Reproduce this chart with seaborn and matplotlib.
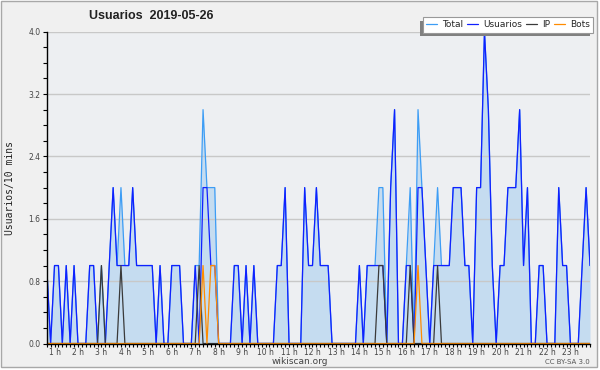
"""Wikiscan style daily activity chart: users per 10 minutes."""
import matplotlib
matplotlib.use("Agg")
import matplotlib.pyplot as plt
from matplotlib.patches import Rectangle
import numpy as np
import pandas as pd
import seaborn as sns

# one value per 10-minute slot (140 slots on the chart)
usuarios = [
    1, 0, 1, 1, 0, 1, 0, 1, 0, 0,
    0, 1, 1, 0, 0, 0, 1, 2, 1, 1,
    1, 1, 2, 1, 1, 1, 1, 1, 0, 1,
    0, 0, 1, 1, 1, 0, 0, 0, 1, 0,
    2, 2, 1, 1, 0, 0, 0, 0, 1, 1,
    0, 1, 0, 1, 0, 0, 0, 0, 0, 1,
    1, 2, 0, 0, 0, 0, 2, 1, 1, 2,
    1, 1, 1, 0, 0, 0, 0, 0, 0, 0,
    1, 0, 1, 1, 1, 1, 1, 0, 2, 3,
    0, 0, 1, 1, 0, 2, 2, 1, 0, 1,
    1, 1, 1, 1, 2, 2, 2, 1, 1, 0,
    2, 2, 4, 3, 1, 0, 1, 1, 2, 2,
    2, 3, 1, 2, 0, 0, 1, 1, 0, 0,
    0, 2, 1, 1, 0, 0, 0, 1, 2, 1,
]
total = [
    1, 0, 1, 1, 0, 1, 0, 1, 0, 0,
    0, 1, 1, 0, 1, 0, 1, 2, 1, 2,
    1, 1, 2, 1, 1, 1, 1, 1, 0, 1,
    0, 0, 1, 1, 1, 0, 0, 0, 1, 1,
    3, 2, 2, 2, 0, 0, 0, 0, 1, 1,
    0, 1, 0, 1, 0, 0, 0, 0, 0, 1,
    1, 2, 0, 0, 0, 0, 2, 1, 1, 2,
    1, 1, 1, 0, 0, 0, 0, 0, 0, 0,
    1, 0, 1, 1, 1, 2, 2, 0, 2, 3,
    0, 0, 1, 2, 0, 3, 2, 1, 0, 1,
    2, 1, 1, 1, 2, 2, 2, 1, 1, 0,
    2, 2, 4, 3, 1, 0, 1, 1, 2, 2,
    2, 3, 1, 2, 0, 0, 1, 1, 0, 0,
    0, 2, 1, 1, 0, 0, 0, 1, 2, 1,
]
ip = [
    0, 0, 0, 0, 0, 0, 0, 0, 0, 0,
    0, 0, 0, 0, 1, 0, 0, 0, 0, 1,
    0, 0, 0, 0, 0, 0, 0, 0, 0, 0,
    0, 0, 0, 0, 0, 0, 0, 0, 0, 1,
    0, 0, 0, 0, 0, 0, 0, 0, 0, 0,
    0, 0, 0, 0, 0, 0, 0, 0, 0, 0,
    0, 0, 0, 0, 0, 0, 0, 0, 0, 0,
    0, 0, 0, 0, 0, 0, 0, 0, 0, 0,
    0, 0, 0, 0, 0, 1, 1, 0, 0, 0,
    0, 0, 0, 1, 0, 0, 0, 0, 0, 0,
    1, 0, 0, 0, 0, 0, 0, 0, 0, 0,
    0, 0, 0, 0, 0, 0, 0, 0, 0, 0,
    0, 0, 0, 0, 0, 0, 0, 0, 0, 0,
    0, 0, 0, 0, 0, 0, 0, 0, 0, 0,
]
bots = [
    0, 0, 0, 0, 0, 0, 0, 0, 0, 0,
    0, 0, 0, 0, 0, 0, 0, 0, 0, 0,
    0, 0, 0, 0, 0, 0, 0, 0, 0, 0,
    0, 0, 0, 0, 0, 0, 0, 0, 0, 0,
    1, 0, 1, 1, 0, 0, 0, 0, 0, 0,
    0, 0, 0, 0, 0, 0, 0, 0, 0, 0,
    0, 0, 0, 0, 0, 0, 0, 0, 0, 0,
    0, 0, 0, 0, 0, 0, 0, 0, 0, 0,
    0, 0, 0, 0, 0, 0, 0, 0, 0, 0,
    0, 0, 0, 0, 0, 1, 0, 0, 0, 0,
    0, 0, 0, 0, 0, 0, 0, 0, 0, 0,
    0, 0, 0, 0, 0, 0, 0, 0, 0, 0,
    0, 0, 0, 0, 0, 0, 0, 0, 0, 0,
    0, 0, 0, 0, 0, 0, 0, 0, 0, 0,
]
hour_labels = [f"{h} h" for h in range(1, 24)]
y_ticks = [0.0, 0.8, 1.6, 2.4, 3.2, 4.0]

df = pd.DataFrame({
    "slot": np.arange(len(usuarios)),
    "Total": total,
    "Usuarios": usuarios,
    "IP": ip,
    "Bots": bots,
})

colors = {"Total": "#3d9df5", "Usuarios": "#1020ff", "IP": "#3a3a3a", "Bots": "#ff8c00"}

sns.set_style("white")
plt.rcParams["font.family"] = ["DejaVu Sans"]

W, H = 600, 370
fig = plt.figure(figsize=(6, 3.7), dpi=100, facecolor="white")
fig.patches.append(Rectangle((0.5 / W, 3 / H), 596.5 / W, 366.5 / H,
                             transform=fig.transFigure, facecolor="#f0f0f0",
                             edgecolor="#a8a8a8", lw=1, zorder=-10))

ax = fig.add_axes([46.7 / W, 1 - 343.5 / H, (590 - 46.7) / W, (343.5 - 31.7) / H])
ax.set_facecolor("#edeff2")

ax.fill_between(df["slot"], df["Total"], color="#c5dcf0", lw=0, zorder=1)
for name in ["Total", "Usuarios", "IP", "Bots"]:
    sns.lineplot(data=df, x="slot", y=name, ax=ax, color=colors[name],
                 lw=0.9, label=name, legend=False, zorder=2)

ax.set_xlim(0, len(usuarios) - 1)
ax.set_ylim(0, 4)

# axes, ticks, grid
for side in ["top", "right"]:
    ax.spines[side].set_visible(False)
for side in ["left", "bottom"]:
    ax.spines[side].set_color("black")
    ax.spines[side].set_linewidth(1.0)

ax.set_yticks(y_ticks)
ax.set_yticklabels([f"{v:.1f}" for v in y_ticks])
ax.set_yticks(np.arange(0, 4.01, 0.2), minor=True)
ax.set_xticks([6 * h - 4 for h in range(1, 24)])
ax.set_xticklabels(hour_labels)
ax.set_xticks(df["slot"], minor=True)
ax.tick_params(axis="y", which="both", direction="out", length=3, width=0.8,
               color="black", labelsize=5.5, labelcolor="#444444", pad=1.5, left=True)
ax.tick_params(axis="x", which="both", direction="out", length=2.5, width=0.8,
               color="black", labelsize=5.5, labelcolor="#444444", pad=0.8, bottom=True)
ax.grid(axis="y", which="major", color="#c8c8c8", lw=1)
ax.set_axisbelow("line")

ax.set_xlabel("")
ax.set_ylabel("Usuarios/10 mins", family="DejaVu Sans Mono", fontsize=7, color="#222222")
ax.yaxis.set_label_coords(-0.058, 0.5)

fig.text(151 / W, 1 - 16 / H, "Usuarios  2019-05-26", ha="center", va="center",
         fontsize=9, fontweight="bold", family="Liberation Sans", color="#222222")
fig.text(300 / W, 1 - 361.5 / H, "wikiscan.org", ha="center", va="center",
         fontsize=6.5, color="#444444")
fig.text(590 / W, 1 - 362.5 / H, "CC BY-SA 3.0", ha="right", va="center",
         fontsize=5, color="#555555")

leg = ax.legend(loc="upper right", bbox_to_anchor=(593 / W, 1 - 17.3 / H),
                bbox_transform=fig.transFigure, ncol=4, fontsize=6.5,
                handlelength=1.25, handletextpad=0.55, columnspacing=0.4,
                borderpad=0.35, borderaxespad=0, frameon=True, fancybox=False,
                framealpha=1, edgecolor="#999999", facecolor="white")
leg.get_frame().set_linewidth(0.8)

fig.canvas.draw()
bb = leg.get_window_extent()
shadow = Rectangle((bb.x0 - 2.7, bb.y0 - 3.3), bb.width, bb.height, transform=None,
                   facecolor="#808080", edgecolor="none", clip_on=False,
                   zorder=leg.get_zorder() - 0.1)
ax.add_patch(shadow)
shadow.set_transform(matplotlib.transforms.IdentityTransform())

fig.savefig("out.png", dpi=100, facecolor=fig.get_facecolor())
